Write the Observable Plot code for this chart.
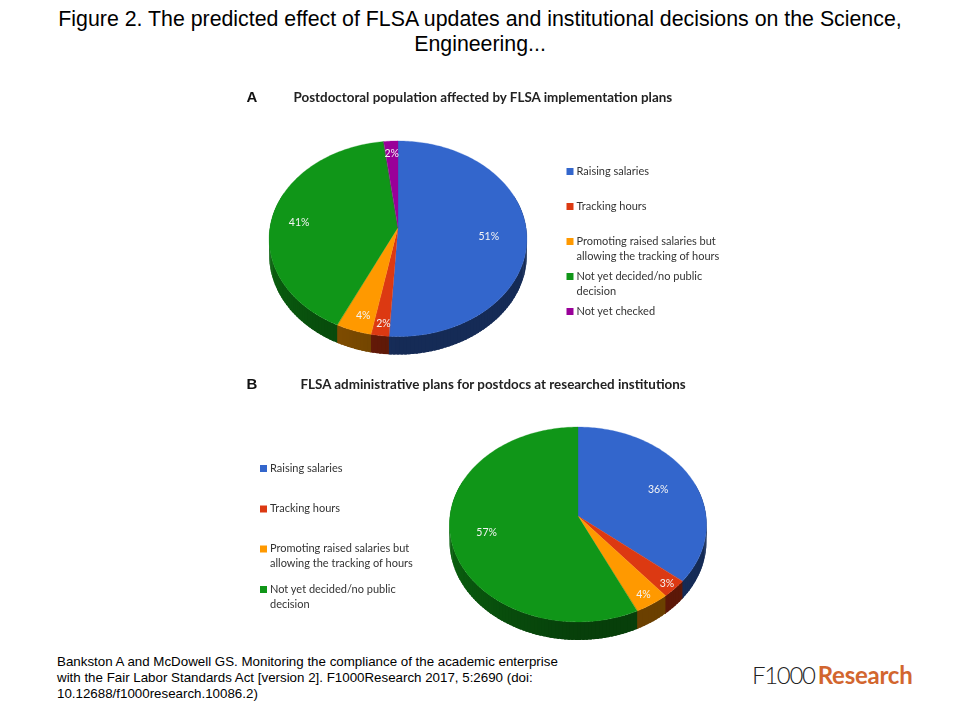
<!DOCTYPE html>
<html>
<head>
<meta charset="utf-8">
<script src="https://cdn.jsdelivr.net/npm/d3@7"></script>
<script src="https://cdn.jsdelivr.net/npm/@observablehq/plot@0.6"></script>
<style>
  html, body { margin: 0; padding: 0; background: #fff; }
  #page { position: relative; width: 960px; height: 720px; overflow: hidden; }
  #title { height: 78px; padding: 7px 40px 0; box-sizing: content-box; text-align: center;
           font: 21.33px/25px "Liberation Sans", Arial, sans-serif; color: #000; }
  #caption { position: absolute; left: 57px; top: 654px;
             font: 13.33px/16px "Liberation Sans", Arial, sans-serif; color: #000; white-space: pre; }
  #logo { position: absolute; left: 752px; top: 660px; font-family: Lato, sans-serif; font-size: 24px; line-height: 30px; white-space: nowrap; }
  #logo .f { font-weight: 300; color: #222; letter-spacing: -1.3px; }
  #logo .r { font-weight: 700; color: #d2662f; letter-spacing: -0.25px; margin-left: 3px; }
  svg { display: block; filter: blur(0.5px); }
</style>
</head>
<body>
<div id="page">
  <div id="title"></div>
  <div id="charts"></div>
  <div id="caption"></div>
  <div id="logo"><span class="f">F1000</span><span class="r">Research</span></div>
</div>
<script>
const figureTitle = "Figure 2. The predicted effect of FLSA updates and institutional decisions on the Science, Engineering...";
const captionText = "Bankston A and McDowell GS. Monitoring the compliance of the academic enterprise\nwith the Fair Labor Standards Act [version 2]. F1000Research 2017, 5:2690 (doi:\n10.12688/f1000research.10086.2)";

const categories = ["Raising salaries", "Tracking hours", "Promoting raised salaries but\nallowing the tracking of hours", "Not yet decided/no public\ndecision", "Not yet checked"];
const palette = ["#3366cc", "#dc3912", "#ff9900", "#109618", "#990099"];

const titleA = "Postdoctoral population affected by FLSA implementation plans";
const valuesA = [51, 2, 4, 41, 2];
const titleB = "FLSA administrative plans for postdocs at researched institutions";
const valuesB = [36, 3, 4, 57];

// Layout of each panel (not data): the page band it occupies, the pie's tilt and where things go.
const layoutA = {
  letter: "A", title: titleA, values: valuesA, band: [85, 370],
  letterX: 246, titleX: 293, headY: 97,
  cx: 398, cy: 227.5, rx: 128, ry: 96.5, k: 0.115, depth: 16, labelCy: 234,
  labelR: [0.70, 0.935, 0.887, 0.78, 0.835],
  legendX: 569.5, legendY: [171, 206, 241, 276, 311]
};
const layoutB = {
  letter: "B", title: titleB, values: valuesB, band: [370, 650],
  letterX: 246, titleX: 300, headY: 384,
  cx: 578, cy: 516, rx: 128, ry: 96.7, k: 0.087, depth: 16.5, labelCy: 517,
  labelR: [0.683, 0.97, 0.94, 0.73],
  legendX: 263, legendY: [468, 508.5, 548.5, 589]
};

const rad = Math.PI / 180;
function project(g, deg, r = 1, drop = 0) {
  const u = r * Math.sin(deg * rad), v = -r * Math.cos(deg * rad);
  const s = 1 / (1 - g.k * v);
  return [g.cx + g.rx * u * s, g.cy + g.ry * v * s + drop * s];
}
function sideShade(base, deg) {
  const f = deg > 180 ? 0.42 + 0.26 * Math.min(1, (deg - 180) / 90) : 0.42;
  const c = d3.rgb(base);
  return d3.rgb(c.r * f, c.g * f, c.b * f).formatHex();
}

function panel(g) {
  const cats = categories.slice(0, g.values.length);
  const arcs = d3.pie().sort(null).value(d => d)(g.values).map((a, i) => ({
    cat: cats[i], color: palette[i], value: a.value,
    a0: a.startAngle / rad, a1: a.endAngle / rad, r: g.labelR[i]
  }));

  const top = [], side = [];
  for (const a of arcs) {
    const n = Math.max(2, Math.ceil(a.a1 - a.a0));
    for (let j = 0; j <= n; j++) {
      const t = a.a0 + (a.a1 - a.a0) * j / n;
      const [x2, y2] = project(g, t);
      top.push({cat: a.cat, x1: g.cx, y1: g.cy, x2, y2});
    }
    // Narrow facets painted in angle order, each overlapping the previous one so no seams show.
    for (let t0 = Math.max(a.a0, 70); t0 < Math.min(a.a1, 290); t0 += 1.5) {
      const t1 = Math.min(t0 + 2.5, a.a1 + 0.3);
      const shade = sideShade(a.color, (t0 + t1) / 2);
      for (const t of [t0, t1]) {
        const [x1, y1] = project(g, t);
        const [x2, y2] = project(g, t, 1, g.depth);
        side.push({piece: a.cat + t0, shade, x1, y1, x2, y2});
      }
    }
  }

  const labels = arcs.map(a => {
    const m = (a.a0 + a.a1) / 2;
    return {
      text: a.value + "%",
      x: g.cx + (g.rx + 1) * a.r * Math.sin(m * rad),
      y: g.labelCy - g.ry * a.r * Math.cos(m * rad)
    };
  });
  const legend = cats.map((cat, i) => ({cat, y: g.legendY[i]}));
  const H = g.band[1] - g.band[0];

  return Plot.plot({
    width: 960, height: H,
    margin: 0,
    x: {domain: [0, 960], range: [0, 960], axis: null},
    y: {domain: g.band, range: [0, H], axis: null},
    color: {domain: categories, range: palette},
    style: {fontFamily: "Lato, sans-serif", background: "transparent"},
    marks: [
      Plot.area(side, {x1: "x1", y1: "y1", x2: "x2", y2: "y2", z: "piece",
        fill: {value: "shade", scale: null}}),
      Plot.area(top, {x1: "x1", y1: "y1", x2: "x2", y2: "y2", z: "cat", fill: "cat", stroke: "cat", strokeWidth: 0.3}),
      Plot.text(labels, {x: "x", y: "y", text: "text", fill: "#f4f4f4", fontSize: 10.5}),
      Plot.dot(legend, {x: g.legendX, y: "y", symbol: "square", r: 3.95, fill: "cat"}),
      Plot.text(legend, {x: g.legendX + 6.5, y: "y", text: "cat", textAnchor: "start", lineAnchor: "top", dy: -7.3,
        lineHeight: 1.36, fill: "#333", fontSize: 11}),
      Plot.text([g.letter], {x: g.letterX, y: g.headY, text: d => d, textAnchor: "start", fontWeight: 700,
        fontSize: 15, fill: "#111", fontFamily: "Liberation Sans, Arial, sans-serif"}),
      Plot.text([g.title], {x: g.titleX, y: g.headY, text: d => d, textAnchor: "start", fontWeight: 700,
        fontSize: 13.4, fill: "#222"})
    ]
  });
}

document.getElementById("title").textContent = figureTitle;
document.getElementById("caption").textContent = captionText;
const host = document.getElementById("charts");
host.append(panel(layoutA), panel(layoutB));
</script>
</body>
</html>
